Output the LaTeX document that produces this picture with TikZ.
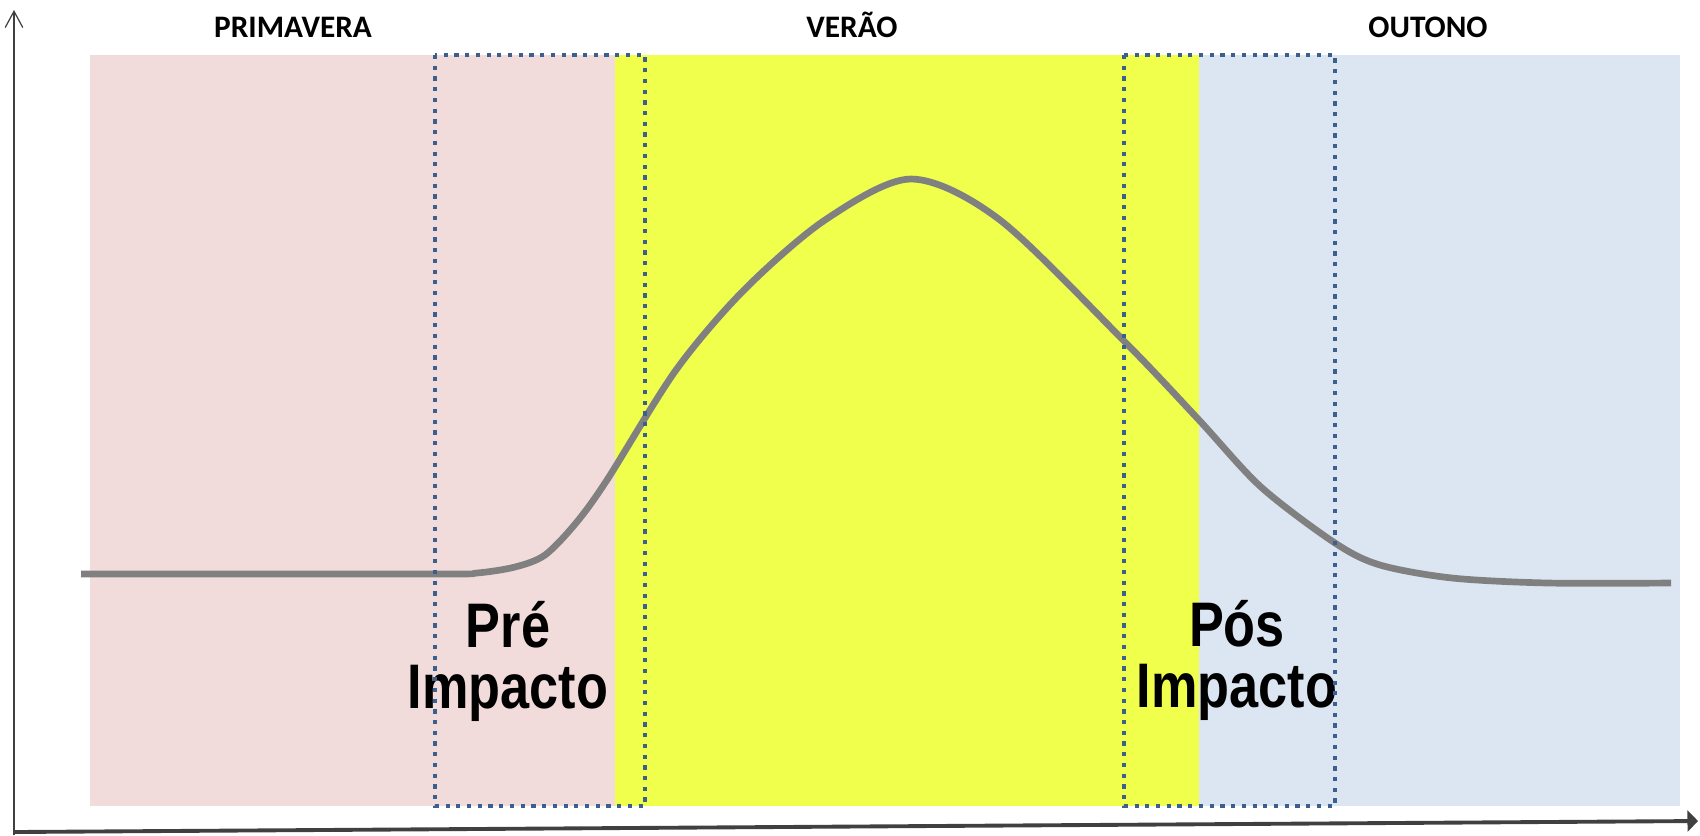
\documentclass[tikz,border=0pt]{standalone}
\usepackage{fontspec}
\newfontfamily\seasonfont{Carlito}
\newfontfamily\impactfont{Liberation Sans}
\usetikzlibrary{arrows.meta}

\definecolor{springpink}{RGB}{242,220,219}
\definecolor{summeryellow}{RGB}{240,254,76}
\definecolor{autumnblue}{RGB}{220,230,242}
\definecolor{windowblue}{RGB}{59,96,144}
\definecolor{axisgray}{RGB}{64,64,64}

\tikzset{
  season/.style={font=\seasonfont\bfseries\fontsize{8.9}{10.7}\selectfont, anchor=base, inner sep=0pt},
  impact/.style={font=\impactfont\bfseries\fontsize{17.9}{17.1}\selectfont, align=center, xscale=0.83, anchor=north, inner sep=0pt},
  window/.style={draw=windowblue, line width=1.2pt, dash pattern=on 1.2pt off 1.85pt}
}

\begin{document}
\begin{tikzpicture}[x=0.01cm, y=-0.01cm]
  \useasboundingbox (0,0) rectangle (1700,835);

  % seasons
  \fill[springpink]   (90,55)   rectangle (615,806);
  \fill[summeryellow] (615,55)  rectangle (1199,806);
  \fill[autumnblue]   (1199,55) rectangle (1680,806);

  \node[season] (primavera) at (293,37)  {PRIMAVERA};
  \node[season] (verao)     at (852,37)  {VERÃO};
  \node[season] (outono)    at (1428,37) {OUTONO};

  % curve
  \draw[line width=1.9pt, color=gray] plot[smooth, tension=0.5] coordinates {
    (81,574) (435,574) (477,573) (515,567) (545,555) (576,523) (607,480)
    (676,370) (744,290) (825,220) (911,179) (1000,220) (1125,342)
    (1199,420) (1261,487) (1335,543) (1380,565) (1452,578) (1548,583)
    (1671,583)};

  \node[impact] (pre) at (508,601)  {Pré\\Impacto};
  \node[impact] (pos) at (1237,600) {Pós\\Impacto};

  % impact windows
  \draw[window] (435,55)  rectangle (645,806);
  \draw[window] (1124,55) rectangle (1335,806);

  % axes
  \coordinate (o)    at (14,832);
  \coordinate (ytop) at (14,10);
  \coordinate (xend) at (1698,821);
  \draw[axisgray, line width=0.35pt, -{Straight Barb[length=4.6pt,width=5pt]}] (14,835) -- (ytop);
  \draw[axisgray, line width=1.1pt, -{Triangle[length=3pt,width=6pt]}] (o) -- (xend);
\end{tikzpicture}
\end{document}
